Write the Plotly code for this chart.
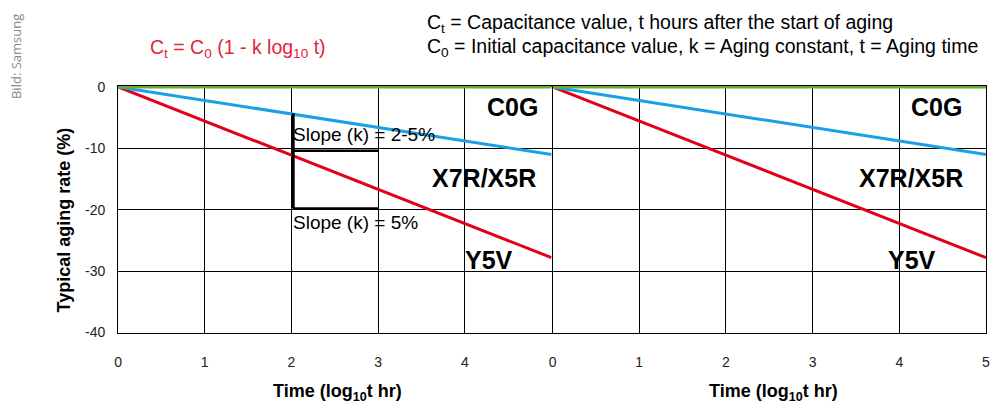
import plotly.graph_objects as go

# ---- data ----
decades = [0, 5]                 # log10 t (hr)
c0g_rate = [0, 0]                # %
x7r_rate = [0, -11.0]            # %
y5v_rate = [0, -27.8]            # %
x_ticks = [0, 1, 2, 3, 4, 5]
x_tick_labels_left = ["0", "1", "2", "3", "4", ""]
x_tick_labels_right = ["0", "1", "2", "3", "4", "5"]
y_ticks = [0, -10, -20, -30, -40]
y_tick_labels = ["0", "-10", "-20", "-30", "-40"]
# slope illustration box (decades, %)
box_vert_x = [2.02, 2.02]
box_vert_y = [-4.3, -19.8]
box_top_x = [2.02, 3]
box_top_y = [-10.4, -10.4]
box_bot_x = [2.02, 3]
box_bot_y = [-19.8, -19.8]

RED = "#e2001a"
BLUE = "#1aa0e4"
GREEN = "#67ad2e"
FONT = "Liberation Sans, Arial, sans-serif"

W, H = 991, 408
Y_TOP = 0.2   # small headroom so the 0% line is not half clipped

fig = go.Figure()

for xa, ya in (("x", "y"), ("x2", "y2")):
    fig.add_trace(go.Scatter(x=decades, y=y5v_rate, mode="lines", xaxis=xa, yaxis=ya,
                             line=dict(color=RED, width=3), showlegend=False, hoverinfo="skip"))
    fig.add_trace(go.Scatter(x=decades, y=x7r_rate, mode="lines", xaxis=xa, yaxis=ya,
                             line=dict(color=BLUE, width=3), showlegend=False, hoverinfo="skip"))
    fig.add_trace(go.Scatter(x=decades, y=c0g_rate, mode="lines", xaxis=xa, yaxis=ya,
                             line=dict(color=GREEN, width=3), showlegend=False, hoverinfo="skip"))

for bx, by, w in ((box_vert_x, box_vert_y, 3), (box_top_x, box_top_y, 2.5), (box_bot_x, box_bot_y, 2.5)):
    fig.add_trace(go.Scatter(x=bx, y=by, mode="lines", xaxis="x", yaxis="y",
                             line=dict(color="black", width=w), showlegend=False, hoverinfo="skip"))

def px_x(p):
    return p / W

def px_y(p):
    return 1 - p / H

PX_PER_UNIT = (338 - 83) / 40.0
y_dom = [px_y(338), px_y(83 - Y_TOP * PX_PER_UNIT)]

axis_common = dict(showgrid=True, gridcolor="black", gridwidth=1, showline=True,
                   linecolor="black", linewidth=1, mirror=True, zeroline=False,
                   ticks="", tickfont=dict(family=FONT, size=14, color="#222"))

fig.update_layout(
    width=W, height=H, autosize=False,
    margin=dict(l=0, r=0, t=0, b=0),
    paper_bgcolor="white", plot_bgcolor="white",
    font=dict(family=FONT, color="black"),
    xaxis=dict(domain=[px_x(115), px_x(552)], range=[0, 5], tickvals=x_ticks,
               ticktext=x_tick_labels_left, anchor="y", ticklabelstandoff=17,
               ticklabeloverflow="allow", **axis_common),
    xaxis2=dict(domain=[px_x(553), px_x(990)], range=[0, 5], tickvals=x_ticks,
                ticktext=x_tick_labels_right, anchor="y2", ticklabelstandoff=17,
                ticklabeloverflow="allow", **axis_common),
    yaxis=dict(domain=y_dom, range=[-40, Y_TOP], tickvals=y_ticks,
               ticktext=y_tick_labels, anchor="x", ticklabelstandoff=9, **axis_common),
    yaxis2=dict(domain=y_dom, range=[-40, Y_TOP], tickvals=y_ticks,
                showticklabels=False, anchor="x2", **{k: v for k, v in axis_common.items() if k != "tickfont"}),
)

ann = []
BOLD = dict(size=25, family=FONT)
# labels inside plots
for xr, yr, c0g_x, x7_x, y5_x in (("x", "y", 4.87, 4.84, 4.28), ("x2", "y2", 4.75, 4.76, 4.15)):
    ann.append(dict(xref=xr, yref=yr, x=c0g_x, y=-3.3, text="<b>C0G</b>", xanchor="right",
                    yanchor="middle", showarrow=False, font=BOLD))
    ann.append(dict(xref=xr, yref=yr, x=x7_x, y=-14.8, text="<b>X7R/X5R</b>", xanchor="right",
                    yanchor="middle", showarrow=False, font=BOLD))
    ann.append(dict(xref=xr, yref=yr, x=y5_x, y=-28.1, text="<b>Y5V</b>", xanchor="center",
                    yanchor="middle", showarrow=False, font=BOLD))

ann.append(dict(xref="x", yref="y", x=1.99, y=-7.8, text="Slope (k) = 2-5%", xanchor="left",
                yanchor="middle", showarrow=False, font=dict(size=19, family=FONT)))
ann.append(dict(xref="x", yref="y", x=1.99, y=-22.0, text="Slope (k) = 5%", xanchor="left",
                yanchor="middle", showarrow=False, font=dict(size=19, family=FONT)))

# axis titles
for cx in (336, 776):
    ann.append(dict(xref="paper", yref="paper", x=px_x(cx), y=px_y(400),
                    text="<b>Time (log<sub>10</sub>t hr)</b>", xanchor="center", yanchor="middle",
                    showarrow=False, font=dict(size=18, family=FONT)))
ann.append(dict(xref="paper", yref="paper", x=px_x(60), y=px_y(221),
                text="<b>Typical aging rate (%)</b>", textangle=-90, xanchor="center",
                yanchor="middle", showarrow=False, font=dict(size=18, family=FONT)))

# formula texts
ann.append(dict(xref="paper", yref="paper", x=px_x(145), y=px_y(43),
                text="C<sub>t</sub> = C<sub>0</sub> (1 - k log<sub>10</sub> t)", xanchor="left",
                yanchor="middle", showarrow=False, font=dict(size=19.5, family=FONT, color="#e3233b")))
ann.append(dict(xref="paper", yref="paper", x=px_x(424), y=px_y(17),
                text="C<sub>t</sub> = Capacitance value, t hours after the start of aging",
                xanchor="left", yanchor="middle", showarrow=False, font=dict(size=19.5, family=FONT)))
ann.append(dict(xref="paper", yref="paper", x=px_x(424), y=px_y(42),
                text="C<sub>0</sub> = Initial capacitance value, k = Aging constant, t = Aging time",
                xanchor="left", yanchor="middle", showarrow=False, font=dict(size=19.5, family=FONT)))

# credit
ann.append(dict(xref="paper", yref="paper", x=px_x(12), y=px_y(51), text="Bild: Samsung",
                textangle=-90, xanchor="center", yanchor="middle", showarrow=False,
                font=dict(size=13, family="Open Sans, sans-serif", color="#8a8a8a")))

fig.update_layout(annotations=ann)
fig.write_html("out.html")
